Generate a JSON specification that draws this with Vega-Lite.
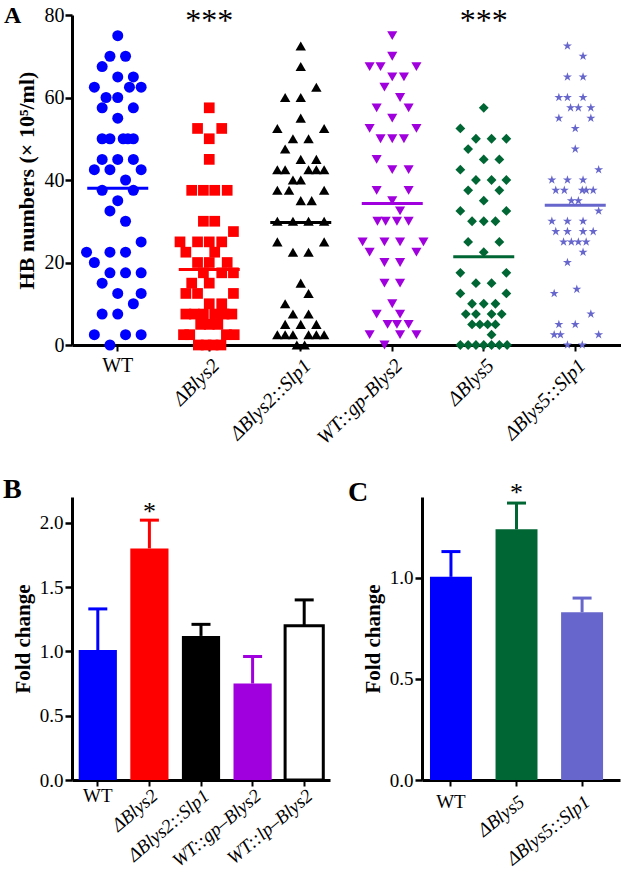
{
  "$schema": "https://vega.github.io/schema/vega-lite/v6.json",
  "background": "white",
  "padding": {"left": 3, "top": 4, "right": 0, "bottom": 0},
  "config": {
    "font": "Liberation Serif",
    "view": {"stroke": null},
    "axis": {"domainColor": "black", "domainWidth": 3, "tickColor": "black", "tickWidth": 2.5, "tickSize": 7, "labelColor": "black", "labelFont": "Liberation Serif", "titleFont": "Liberation Serif", "titleFontWeight": "bold", "titleColor": "black", "grid": false, "labelFontSize": 19, "labelOverlap": false},
    "title": {"font": "Liberation Serif", "fontWeight": "bold", "anchor": "start", "color": "black", "frame": "group"}
  },
  "spacing": 28,
  "resolve": {"scale": {"xOffset": "independent", "color": "independent", "fill": "independent", "stroke": "independent", "shape": "independent", "size": "independent"}},
  "vconcat": [
    {
      "width": 549,
      "height": 330,
      "title": {"text": "A", "fontSize": 24, "dx": -68, "offset": -23},
      "layer": [
        {
          "data": {"values": [
            {"g":"WT","v":75,"s":0},{"g":"WT","v":70,"s":-1},{"g":"WT","v":70,"s":1},{"g":"WT","v":67.5,"s":-2},{"g":"WT","v":65,"s":0},{"g":"WT","v":65,"s":2},{"g":"WT","v":62.5,"s":-3},{"g":"WT","v":62.5,"s":1.5},{"g":"WT","v":62.5,"s":3},{"g":"WT","v":60,"s":-1.5},{"g":"WT","v":60,"s":0},{"g":"WT","v":57.5,"s":-2},{"g":"WT","v":57.5,"s":2},{"g":"WT","v":55,"s":0},{"g":"WT","v":50,"s":-2},{"g":"WT","v":50,"s":-1},{"g":"WT","v":50,"s":0.7},{"g":"WT","v":50,"s":1.3},{"g":"WT","v":50,"s":2},{"g":"WT","v":45,"s":-2},{"g":"WT","v":45,"s":0},{"g":"WT","v":45,"s":2},{"g":"WT","v":42.5,"s":-3},{"g":"WT","v":42.5,"s":-1},{"g":"WT","v":42.5,"s":3},{"g":"WT","v":40,"s":1},{"g":"WT","v":37.5,"s":-2},{"g":"WT","v":37.5,"s":2},{"g":"WT","v":35,"s":0},{"g":"WT","v":32.5,"s":-1},{"g":"WT","v":30,"s":1},{"g":"WT","v":25,"s":3},{"g":"WT","v":22.5,"s":-4},{"g":"WT","v":22.5,"s":-1},{"g":"WT","v":22.5,"s":1},{"g":"WT","v":20,"s":-3},{"g":"WT","v":17.5,"s":-1},{"g":"WT","v":17.5,"s":1},{"g":"WT","v":17.5,"s":3},{"g":"WT","v":15,"s":-2},{"g":"WT","v":12.5,"s":0},{"g":"WT","v":12.5,"s":3},{"g":"WT","v":10,"s":2},{"g":"WT","v":7.5,"s":-2},{"g":"WT","v":7.5,"s":0},{"g":"WT","v":2.5,"s":-3},{"g":"WT","v":2.5,"s":1},{"g":"WT","v":2.5,"s":3},{"g":"WT","v":0,"s":-1},
            {"g":"ΔBlys2","v":57.5,"s":0},{"g":"ΔBlys2","v":52.5,"s":-1.5},{"g":"ΔBlys2","v":52.5,"s":1.6},{"g":"ΔBlys2","v":50,"s":0},{"g":"ΔBlys2","v":45,"s":0},{"g":"ΔBlys2","v":37.5,"s":-2.25},{"g":"ΔBlys2","v":37.5,"s":-0.75},{"g":"ΔBlys2","v":37.5,"s":0.7},{"g":"ΔBlys2","v":37.5,"s":2.3},{"g":"ΔBlys2","v":30,"s":-0.75},{"g":"ΔBlys2","v":30,"s":0.7},{"g":"ΔBlys2","v":27.5,"s":3.1},{"g":"ΔBlys2","v":25,"s":-3.75},{"g":"ΔBlys2","v":25,"s":-1.5},{"g":"ΔBlys2","v":25,"s":0},{"g":"ΔBlys2","v":25,"s":1.6},{"g":"ΔBlys2","v":22.5,"s":-3},{"g":"ΔBlys2","v":22.5,"s":0.7},{"g":"ΔBlys2","v":20,"s":-1.5},{"g":"ΔBlys2","v":20,"s":0},{"g":"ΔBlys2","v":20,"s":2.3},{"g":"ΔBlys2","v":17.5,"s":-0.75},{"g":"ΔBlys2","v":17.5,"s":1.6},{"g":"ΔBlys2","v":17.5,"s":3.1},{"g":"ΔBlys2","v":15,"s":-2.25},{"g":"ΔBlys2","v":15,"s":0},{"g":"ΔBlys2","v":12.5,"s":-3},{"g":"ΔBlys2","v":12.5,"s":-1.5},{"g":"ΔBlys2","v":12.5,"s":3.1},{"g":"ΔBlys2","v":10,"s":0},{"g":"ΔBlys2","v":10,"s":1.6},{"g":"ΔBlys2","v":7.5,"s":-3},{"g":"ΔBlys2","v":7.5,"s":-1.9},{"g":"ΔBlys2","v":7.5,"s":-0.75},{"g":"ΔBlys2","v":7.5,"s":0.7},{"g":"ΔBlys2","v":7.5,"s":1.9},{"g":"ΔBlys2","v":7.5,"s":2.9},{"g":"ΔBlys2","v":5,"s":-1.1},{"g":"ΔBlys2","v":5,"s":0},{"g":"ΔBlys2","v":5,"s":1.1},{"g":"ΔBlys2","v":2.5,"s":-3.3},{"g":"ΔBlys2","v":2.5,"s":-2.5},{"g":"ΔBlys2","v":2.5,"s":2.2},{"g":"ΔBlys2","v":2.5,"s":3.2},{"g":"ΔBlys2","v":0,"s":-1.4},{"g":"ΔBlys2","v":0,"s":-0.4},{"g":"ΔBlys2","v":0,"s":0.5},{"g":"ΔBlys2","v":0,"s":1.5},
            {"g":"ΔBlys2::Slp1","v":72.5,"s":0},{"g":"ΔBlys2::Slp1","v":67.5,"s":0},{"g":"ΔBlys2::Slp1","v":62.5,"s":2},{"g":"ΔBlys2::Slp1","v":60,"s":-2},{"g":"ΔBlys2::Slp1","v":60,"s":0},{"g":"ΔBlys2::Slp1","v":55,"s":0},{"g":"ΔBlys2::Slp1","v":52.5,"s":-3},{"g":"ΔBlys2::Slp1","v":52.5,"s":3},{"g":"ΔBlys2::Slp1","v":50,"s":-1},{"g":"ΔBlys2::Slp1","v":50,"s":1},{"g":"ΔBlys2::Slp1","v":47.5,"s":-2},{"g":"ΔBlys2::Slp1","v":45,"s":0},{"g":"ΔBlys2::Slp1","v":45,"s":2},{"g":"ΔBlys2::Slp1","v":42.5,"s":-3},{"g":"ΔBlys2::Slp1","v":42.5,"s":-2},{"g":"ΔBlys2::Slp1","v":42.5,"s":1},{"g":"ΔBlys2::Slp1","v":42.5,"s":2},{"g":"ΔBlys2::Slp1","v":42.5,"s":3},{"g":"ΔBlys2::Slp1","v":40,"s":-1},{"g":"ΔBlys2::Slp1","v":40,"s":0},{"g":"ΔBlys2::Slp1","v":37.5,"s":-3},{"g":"ΔBlys2::Slp1","v":37.5,"s":-1.5},{"g":"ΔBlys2::Slp1","v":37.5,"s":3},{"g":"ΔBlys2::Slp1","v":35,"s":0},{"g":"ΔBlys2::Slp1","v":35,"s":1.4},{"g":"ΔBlys2::Slp1","v":30,"s":-3},{"g":"ΔBlys2::Slp1","v":30,"s":-1},{"g":"ΔBlys2::Slp1","v":30,"s":1},{"g":"ΔBlys2::Slp1","v":30,"s":3},{"g":"ΔBlys2::Slp1","v":25,"s":-3},{"g":"ΔBlys2::Slp1","v":25,"s":3},{"g":"ΔBlys2::Slp1","v":22.5,"s":-1},{"g":"ΔBlys2::Slp1","v":22.5,"s":1},{"g":"ΔBlys2::Slp1","v":15,"s":0},{"g":"ΔBlys2::Slp1","v":12.5,"s":1},{"g":"ΔBlys2::Slp1","v":10,"s":-2},{"g":"ΔBlys2::Slp1","v":7.5,"s":-1},{"g":"ΔBlys2::Slp1","v":7.5,"s":1},{"g":"ΔBlys2::Slp1","v":5,"s":-2},{"g":"ΔBlys2::Slp1","v":5,"s":0},{"g":"ΔBlys2::Slp1","v":5,"s":2},{"g":"ΔBlys2::Slp1","v":2.5,"s":-3},{"g":"ΔBlys2::Slp1","v":2.5,"s":-2},{"g":"ΔBlys2::Slp1","v":2.5,"s":-1},{"g":"ΔBlys2::Slp1","v":2.5,"s":1},{"g":"ΔBlys2::Slp1","v":2.5,"s":2},{"g":"ΔBlys2::Slp1","v":2.5,"s":3},{"g":"ΔBlys2::Slp1","v":0,"s":-0.5},{"g":"ΔBlys2::Slp1","v":0,"s":0.5},
            {"g":"WT::gp-Blys2","v":75,"s":0},{"g":"WT::gp-Blys2","v":70,"s":0},{"g":"WT::gp-Blys2","v":67.5,"s":-2.9},{"g":"WT::gp-Blys2","v":67.5,"s":-1.5},{"g":"WT::gp-Blys2","v":67.5,"s":3.1},{"g":"WT::gp-Blys2","v":65,"s":0},{"g":"WT::gp-Blys2","v":65,"s":1.5},{"g":"WT::gp-Blys2","v":62.5,"s":-1},{"g":"WT::gp-Blys2","v":60,"s":1},{"g":"WT::gp-Blys2","v":57.5,"s":-2},{"g":"WT::gp-Blys2","v":57.5,"s":2.1},{"g":"WT::gp-Blys2","v":55,"s":0},{"g":"WT::gp-Blys2","v":52.5,"s":-2.9},{"g":"WT::gp-Blys2","v":52.5,"s":3.1},{"g":"WT::gp-Blys2","v":50,"s":-1.5},{"g":"WT::gp-Blys2","v":50,"s":0},{"g":"WT::gp-Blys2","v":50,"s":1.5},{"g":"WT::gp-Blys2","v":45,"s":-2},{"g":"WT::gp-Blys2","v":42.5,"s":0},{"g":"WT::gp-Blys2","v":42.5,"s":2.1},{"g":"WT::gp-Blys2","v":37.5,"s":-2},{"g":"WT::gp-Blys2","v":37.5,"s":2.1},{"g":"WT::gp-Blys2","v":35,"s":0},{"g":"WT::gp-Blys2","v":32.5,"s":1},{"g":"WT::gp-Blys2","v":30,"s":-1.9},{"g":"WT::gp-Blys2","v":30,"s":-0.85},{"g":"WT::gp-Blys2","v":30,"s":0.6},{"g":"WT::gp-Blys2","v":30,"s":2.1},{"g":"WT::gp-Blys2","v":25,"s":-3.8},{"g":"WT::gp-Blys2","v":25,"s":-1},{"g":"WT::gp-Blys2","v":25,"s":1},{"g":"WT::gp-Blys2","v":25,"s":4},{"g":"WT::gp-Blys2","v":22.5,"s":-2.9},{"g":"WT::gp-Blys2","v":22.5,"s":3.1},{"g":"WT::gp-Blys2","v":20,"s":-1},{"g":"WT::gp-Blys2","v":20,"s":1},{"g":"WT::gp-Blys2","v":15,"s":-1},{"g":"WT::gp-Blys2","v":15,"s":1},{"g":"WT::gp-Blys2","v":10,"s":0},{"g":"WT::gp-Blys2","v":7.5,"s":-2},{"g":"WT::gp-Blys2","v":7.5,"s":1},{"g":"WT::gp-Blys2","v":5,"s":-0.6},{"g":"WT::gp-Blys2","v":5,"s":0.6},{"g":"WT::gp-Blys2","v":5,"s":2.1},{"g":"WT::gp-Blys2","v":2.5,"s":-2.9},{"g":"WT::gp-Blys2","v":2.5,"s":1},{"g":"WT::gp-Blys2","v":2.5,"s":3.1},{"g":"WT::gp-Blys2","v":0,"s":-1},
            {"g":"ΔBlys5","v":57.5,"s":0},{"g":"ΔBlys5","v":52.5,"s":-3},{"g":"ΔBlys5","v":50,"s":-1},{"g":"ΔBlys5","v":50,"s":1},{"g":"ΔBlys5","v":50,"s":2.9},{"g":"ΔBlys5","v":47.5,"s":-2},{"g":"ΔBlys5","v":45,"s":0},{"g":"ΔBlys5","v":45,"s":2},{"g":"ΔBlys5","v":42.5,"s":-3},{"g":"ΔBlys5","v":40,"s":-1},{"g":"ΔBlys5","v":40,"s":1},{"g":"ΔBlys5","v":40,"s":2.9},{"g":"ΔBlys5","v":37.5,"s":-2},{"g":"ΔBlys5","v":37.5,"s":2},{"g":"ΔBlys5","v":35,"s":0},{"g":"ΔBlys5","v":32.5,"s":-3},{"g":"ΔBlys5","v":32.5,"s":2.9},{"g":"ΔBlys5","v":30,"s":-1.5},{"g":"ΔBlys5","v":30,"s":0},{"g":"ΔBlys5","v":30,"s":1.5},{"g":"ΔBlys5","v":25,"s":-2},{"g":"ΔBlys5","v":25,"s":2},{"g":"ΔBlys5","v":22.5,"s":0},{"g":"ΔBlys5","v":17.5,"s":-3},{"g":"ΔBlys5","v":17.5,"s":2.9},{"g":"ΔBlys5","v":15,"s":-1},{"g":"ΔBlys5","v":15,"s":1},{"g":"ΔBlys5","v":12.5,"s":-3},{"g":"ΔBlys5","v":12.5,"s":2.9},{"g":"ΔBlys5","v":10,"s":-1.5},{"g":"ΔBlys5","v":10,"s":0},{"g":"ΔBlys5","v":10,"s":1.5},{"g":"ΔBlys5","v":7.5,"s":-2.3},{"g":"ΔBlys5","v":7.5,"s":-1},{"g":"ΔBlys5","v":7.5,"s":1},{"g":"ΔBlys5","v":7.5,"s":2.3},{"g":"ΔBlys5","v":5,"s":-1.5},{"g":"ΔBlys5","v":5,"s":-0.5},{"g":"ΔBlys5","v":5,"s":0.5},{"g":"ΔBlys5","v":5,"s":1.5},{"g":"ΔBlys5","v":2.5,"s":1},{"g":"ΔBlys5","v":0,"s":-3},{"g":"ΔBlys5","v":0,"s":-2},{"g":"ΔBlys5","v":0,"s":-1},{"g":"ΔBlys5","v":0,"s":0},{"g":"ΔBlys5","v":0,"s":1},{"g":"ΔBlys5","v":0,"s":2},{"g":"ΔBlys5","v":0,"s":3},
            {"g":"ΔBlys5::Slp1","v":72.5,"s":-1},{"g":"ΔBlys5::Slp1","v":70,"s":1},{"g":"ΔBlys5::Slp1","v":65,"s":-1},{"g":"ΔBlys5::Slp1","v":65,"s":1},{"g":"ΔBlys5::Slp1","v":60,"s":-2.1},{"g":"ΔBlys5::Slp1","v":60,"s":-1},{"g":"ΔBlys5::Slp1","v":60,"s":1},{"g":"ΔBlys5::Slp1","v":57.5,"s":-0.6},{"g":"ΔBlys5::Slp1","v":57.5,"s":0.4},{"g":"ΔBlys5::Slp1","v":57.5,"s":2},{"g":"ΔBlys5::Slp1","v":55,"s":-2.1},{"g":"ΔBlys5::Slp1","v":55,"s":2},{"g":"ΔBlys5::Slp1","v":52.5,"s":0},{"g":"ΔBlys5::Slp1","v":47.5,"s":0},{"g":"ΔBlys5::Slp1","v":42.5,"s":3},{"g":"ΔBlys5::Slp1","v":40,"s":-3},{"g":"ΔBlys5::Slp1","v":40,"s":-1},{"g":"ΔBlys5::Slp1","v":40,"s":1},{"g":"ΔBlys5::Slp1","v":37.5,"s":-2.5},{"g":"ΔBlys5::Slp1","v":37.5,"s":-1.4},{"g":"ΔBlys5::Slp1","v":37.5,"s":0.9},{"g":"ΔBlys5::Slp1","v":37.5,"s":1.4},{"g":"ΔBlys5::Slp1","v":37.5,"s":2.3},{"g":"ΔBlys5::Slp1","v":35,"s":-0.5},{"g":"ΔBlys5::Slp1","v":35,"s":0.4},{"g":"ΔBlys5::Slp1","v":32.5,"s":3},{"g":"ΔBlys5::Slp1","v":30,"s":-3},{"g":"ΔBlys5::Slp1","v":30,"s":-1},{"g":"ΔBlys5::Slp1","v":30,"s":1},{"g":"ΔBlys5::Slp1","v":27.5,"s":-2.5},{"g":"ΔBlys5::Slp1","v":27.5,"s":-1},{"g":"ΔBlys5::Slp1","v":27.5,"s":1},{"g":"ΔBlys5::Slp1","v":27.5,"s":2.3},{"g":"ΔBlys5::Slp1","v":25,"s":-1.5},{"g":"ΔBlys5::Slp1","v":25,"s":-0.5},{"g":"ΔBlys5::Slp1","v":25,"s":0.4},{"g":"ΔBlys5::Slp1","v":25,"s":1.4},{"g":"ΔBlys5::Slp1","v":22.5,"s":1},{"g":"ΔBlys5::Slp1","v":20,"s":-1},{"g":"ΔBlys5::Slp1","v":13.5,"s":0.2},{"g":"ΔBlys5::Slp1","v":12.5,"s":-2.7},{"g":"ΔBlys5::Slp1","v":7.5,"s":2},{"g":"ΔBlys5::Slp1","v":5,"s":-2.1},{"g":"ΔBlys5::Slp1","v":5,"s":0},{"g":"ΔBlys5::Slp1","v":2.5,"s":-2.7},{"g":"ΔBlys5::Slp1","v":2.5,"s":-1.9},{"g":"ΔBlys5::Slp1","v":2.5,"s":3},{"g":"ΔBlys5::Slp1","v":0,"s":-1},{"g":"ΔBlys5::Slp1","v":0,"s":0.9}
          ]},
          "mark": {"type": "point", "filled": true, "opacity": 1, "strokeWidth": 0},
          "encoding": {
            "x": {"field": "g", "type": "nominal", "sort": ["WT","ΔBlys2","ΔBlys2::Slp1","WT::gp-Blys2","ΔBlys5","ΔBlys5::Slp1"], "scale": {"type": "band", "paddingInner": 0, "paddingOuter": 0},
              "axis": {"title": null, "labelFontSize": 20, "tickSize": 6, "tickWidth": 2, "labelPadding": 4,
                "labelAngle": {"expr": "datum.value === 'WT' ? 0 : -45"},
                "labelAlign": {"condition": {"test": "datum.value === 'WT'", "value": "center"}, "value": "right"},
                "labelBaseline": "top",
                "labelFontStyle": {"condition": {"test": "datum.value === 'WT'", "value": "normal"}, "value": "italic"}}},
            "xOffset": {"field": "s", "type": "quantitative", "scale": {"domain": [-5.865, 5.865]}},
            "y": {"field": "v", "type": "quantitative", "scale": {"domain": [0, 80]},
              "axis": {"title": "HB numbers (× 10⁵/ml)", "titleFontSize": 22, "titlePadding": 6, "labelFontSize": 20, "labelPadding": 1, "values": [0, 20, 40, 60, 80]}},
            "color": {"field": "g", "type": "nominal", "legend": null, "scale": {"domain": ["WT","ΔBlys2","ΔBlys2::Slp1","WT::gp-Blys2","ΔBlys5","ΔBlys5::Slp1"], "range": ["#0000FF","#FF0000","#000000","#A000DD","#006633","#6666CC"]}},
            "shape": {"field": "g", "type": "nominal", "legend": null, "scale": {"domain": ["WT","ΔBlys2","ΔBlys2::Slp1","WT::gp-Blys2","ΔBlys5","ΔBlys5::Slp1"], "range": ["circle","square","triangle-up","triangle-down","diamond","M0,-1L0.2245,-0.309L0.951,-0.309L0.363,0.118L0.588,0.809L0,0.382L-0.588,0.809L-0.363,0.118L-0.951,-0.309L-0.2245,-0.309Z"]}},
            "size": {"field": "g", "type": "ordinal", "legend": null, "scale": {"domain": ["WT","ΔBlys2","ΔBlys2::Slp1","WT::gp-Blys2","ΔBlys5","ΔBlys5::Slp1"], "range": [121, 90, 105, 105, 110, 110]}}
          }
        },
        {
          "data": {"values": [
            {"g":"WT","m":38},{"g":"ΔBlys2","m":18.3},{"g":"ΔBlys2::Slp1","m":29.7},{"g":"WT::gp-Blys2","m":34.3},{"g":"ΔBlys5","m":21.4},{"g":"ΔBlys5::Slp1","m":33.9}
          ]},
          "mark": {"type": "tick", "size": 61, "thickness": 3, "opacity": 1},
          "encoding": {
            "x": {"field": "g", "type": "nominal", "sort": ["WT","ΔBlys2","ΔBlys2::Slp1","WT::gp-Blys2","ΔBlys5","ΔBlys5::Slp1"]},
            "y": {"field": "m", "type": "quantitative"},
            "color": {"field": "g", "type": "nominal", "legend": null}
          }
        },
        {
          "data": {"values": [
            {"g":"ΔBlys2","v":80,"t":"***"},{"g":"ΔBlys5","v":80,"t":"***"}
          ]},
          "mark": {"type": "text", "fontSize": 32, "baseline": "alphabetic", "dy": 16, "color": "black", "font": "Liberation Serif"},
          "encoding": {
            "x": {"field": "g", "type": "nominal", "sort": ["WT","ΔBlys2","ΔBlys2::Slp1","WT::gp-Blys2","ΔBlys5","ΔBlys5::Slp1"]},
            "y": {"field": "v", "type": "quantitative"},
            "text": {"field": "t"}
          }
        }
      ]
    },
    {
      "spacing": 18,
      "resolve": {"scale": {"color": "independent", "fill": "independent", "stroke": "independent"}},
      "hconcat": [
        {
          "width": 258,
          "height": 283,
          "title": {"text": "B", "fontSize": 28, "dx": -69, "offset": -7},
          "data": {"values": [
            {"g":"WT","v":1.01,"hi":1.33,"sig":""},
            {"g":"ΔBlys2","v":1.80,"hi":2.02,"sig":"*"},
            {"g":"ΔBlys2::Slp1","v":1.12,"hi":1.21,"sig":""},
            {"g":"WT::gp–Blys2","v":0.75,"hi":0.96,"sig":""},
            {"g":"WT::lp–Blys2","v":1.20,"hi":1.40,"sig":""}
          ]},
          "encoding": {
            "x": {"field": "g", "type": "nominal", "sort": null, "scale": {"type": "band", "paddingInner": 0.26, "paddingOuter": 0.13},
              "axis": {"title": null, "labelFontSize": 19, "tickSize": 6, "tickWidth": 2, "labelPadding": 0,
                "labelAngle": {"expr": "datum.value === 'WT' ? 0 : -40"},
                "labelAlign": {"condition": {"test": "datum.value === 'WT'", "value": "center"}, "value": "right"},
                "labelBaseline": "top",
                "labelFontStyle": {"condition": {"test": "datum.value === 'WT'", "value": "normal"}, "value": "italic"}}}
          },
          "layer": [
            {
              "mark": {"type": "bar", "strokeWidth": 3, "width": {"band": 1}},
              "encoding": {
                "y": {"field": "v", "type": "quantitative", "scale": {"domain": [0, 2.2]},
                  "axis": {"title": "Fold change", "titleFontSize": 21, "titlePadding": 6, "labelPadding": 2, "values": [0, 0.5, 1, 1.5, 2], "format": ".1f"}},
                "fill": {"field": "g", "type": "nominal", "legend": null, "scale": {"domain": ["WT","ΔBlys2","ΔBlys2::Slp1","WT::gp–Blys2","WT::lp–Blys2"], "range": ["#0000FF","#FF0000","#000000","#A000DD","#FFFFFF"]}},
                "stroke": {"condition": {"test": "datum.g === 'WT::lp–Blys2'", "value": "#000000"}, "value": null}
              }
            },
            {
              "mark": {"type": "rule", "strokeWidth": 3},
              "encoding": {
                "y": {"field": "v", "type": "quantitative"},
                "y2": {"field": "hi"},
                "color": {"field": "g", "type": "nominal", "legend": null, "scale": {"domain": ["WT","ΔBlys2","ΔBlys2::Slp1","WT::gp–Blys2","WT::lp–Blys2"], "range": ["#0000FF","#FF0000","#000000","#A000DD","#000000"]}}
              }
            },
            {
              "mark": {"type": "tick", "size": 19, "thickness": 3, "opacity": 1},
              "encoding": {
                "y": {"field": "hi", "type": "quantitative"},
                "color": {"field": "g", "type": "nominal", "legend": null}
              }
            },
            {
              "mark": {"type": "text", "fontSize": 26, "baseline": "alphabetic", "dy": 0, "color": "black"},
              "encoding": {
                "y": {"field": "hi", "type": "quantitative"},
                "text": {"field": "sig"}
              }
            }
          ]
        },
        {
          "width": 198,
          "height": 283,
          "title": {"text": "C", "fontSize": 28, "dx": -74, "offset": -27},
          "data": {"values": [
            {"g":"WT","v":1.005,"hi":1.13,"sig":""},
            {"g":"ΔBlys5","v":1.24,"hi":1.37,"sig":"*"},
            {"g":"ΔBlys5::Slp1","v":0.83,"hi":0.90,"sig":""}
          ]},
          "encoding": {
            "x": {"field": "g", "type": "nominal", "sort": null, "scale": {"type": "band", "paddingInner": 0.36, "paddingOuter": 0.19, "align": 0.32},
              "axis": {"title": null, "labelFontSize": 19, "tickSize": 6, "tickWidth": 2, "labelPadding": 6,
                "labelAngle": {"expr": "datum.value === 'WT' ? 0 : -38"},
                "labelAlign": {"condition": {"test": "datum.value === 'WT'", "value": "center"}, "value": "right"},
                "labelBaseline": "top",
                "labelFontStyle": {"condition": {"test": "datum.value === 'WT'", "value": "normal"}, "value": "italic"}}},
            "color": {"field": "g", "type": "nominal", "legend": null, "scale": {"domain": ["WT","ΔBlys5","ΔBlys5::Slp1"], "range": ["#0000FF","#006633","#6666CC"]}}
          },
          "layer": [
            {
              "mark": {"type": "bar", "width": {"band": 1}},
              "encoding": {
                "y": {"field": "v", "type": "quantitative", "scale": {"domain": [0, 1.4]},
                  "axis": {"title": "Fold change", "titleFontSize": 21, "titlePadding": 6, "labelPadding": 2, "values": [0, 0.5, 1], "format": ".1f"}}
              }
            },
            {
              "mark": {"type": "rule", "strokeWidth": 3},
              "encoding": {
                "y": {"field": "v", "type": "quantitative"},
                "y2": {"field": "hi"}
              }
            },
            {
              "mark": {"type": "tick", "size": 19, "thickness": 3, "opacity": 1},
              "encoding": {
                "y": {"field": "hi", "type": "quantitative"}
              }
            },
            {
              "mark": {"type": "text", "fontSize": 26, "baseline": "alphabetic", "dy": -2, "color": "black"},
              "encoding": {
                "y": {"field": "hi", "type": "quantitative"},
                "text": {"field": "sig"},
                "color": {"value": "black"}
              }
            }
          ]
        }
      ]
    }
  ]
}
